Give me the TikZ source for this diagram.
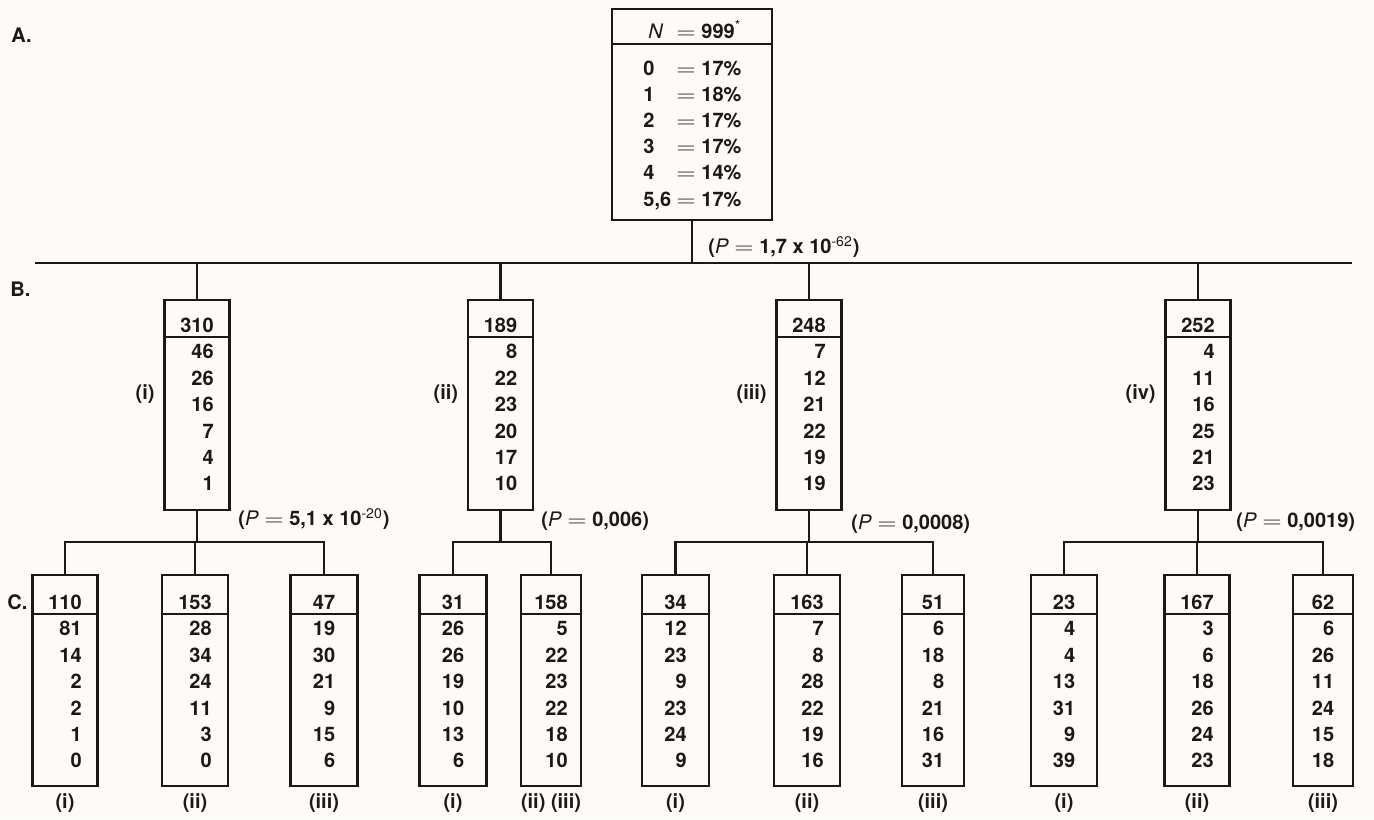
\documentclass[tikz,border=0pt]{standalone}
\usepackage{graphicx}
\usepackage{fontspec}
\setmainfont{TeX Gyre Heros}
\definecolor{ink}{RGB}{28,24,22}
\definecolor{paper}{RGB}{252,251,247}

% a long, light equals sign
\newcommand\eqs{\scalebox{1.25}[1]{$=$}}
% a light, small exponent
\newcommand\expo[1]{\textsuperscript{\mdseries\fontsize{7}{7}\selectfont #1}}

% A tally box: frame, rule under the total, total centred, counts set flush
% right under the total.
% #1 name, #2 centre x, #3 top y, #4 width, #5 height, #6 rule offset,
% #7 total, #8 counts
\newcommand\tally[8]{%
  \node[box, minimum width=#4*0.5pt, minimum height=#5*0.5pt, anchor=north] (#1) at (#2,#3) {};
  \draw[frame] ([yshift=-#6*0.5pt]#1.north west) -- ([yshift=-#6*0.5pt]#1.north east);
  \node[num, anchor=base] (#1-h) at ([yshift=-(#6-4.5)*0.5pt]#1.north) {#7};
  \foreach \v [count=\k] in {#8}
    \node[num, anchor=base east] (#1-\k) at ([yshift=-(\k*26.4)*0.5pt]#1-h.base east) {\v};
}

\begin{document}
\begin{tikzpicture}[x=0.5pt, y=-0.5pt,
  frame/.style={draw=ink, line width=1.3pt},
  box/.style={frame, inner sep=0pt, outer sep=0pt},
  num/.style={text=ink, inner sep=0pt, font=\bfseries\fontsize{10}{12}\selectfont},
  lab/.style={num},
  pval/.style={num, anchor=west}]
\useasboundingbox (0,0) rectangle (1374,819);
\fill[paper] (0,0) rectangle (1374,819);

% section letters
\node[lab, anchor=west] (secA) at (11,35) {A.};
\node[lab, anchor=west] (secB) at (10,289) {B.};
\node[lab, anchor=west] (secC) at (7,602) {C.};

% A: whole sample
\node[box, minimum width=160*0.5pt, minimum height=211*0.5pt, anchor=north] (top) at (692,9) {};
\draw[frame] ([yshift=-17.5pt]top.north west) -- ([yshift=-17.5pt]top.north east);
\node[num, anchor=base west] (topN) at (648,38) {\textit{\mdseries N}};
\node[num, anchor=base west] (topNv) at (676,38) {\eqs\ 999\expo{*}};
\foreach \key/\val [count=\k] in {0/17,1/18,2/17,3/17,4/14,{5,6}/17} {
  \node[num, anchor=base west] (topk\k) at (643,{38+37+(\k-1)*26.2}) {\key};
  \node[num, anchor=base west] (topv\k) at (676,{38+37+(\k-1)*26.2}) {\eqs\ \val\%};
}

% main split
\coordinate (mL) at (35,263);
\coordinate (mR) at (1352,263);
\draw[frame] (mL) -- (mR);
\draw[frame] (top.south) -- (top.south |- mL);
\node[pval] (pA) at (708,247) {(\textit{\mdseries P} \eqs\ 1,7 x 10\expo{-62})};

% B: first split
\tally{b1}{197}{300}{65}{210}{37}{310}{46,26,16,7,4,1}
\tally{b2}{500.5}{300}{65}{210}{37}{189}{8,22,23,20,17,10}
\tally{b3}{809}{300}{65}{210}{37}{248}{7,12,21,22,19,19}
\tally{b4}{1198}{300}{65}{210}{37}{252}{4,11,16,25,21,23}
\foreach \b/\t in {b1/(i),b2/(ii),b3/(iii),b4/(iv)} {
  \draw[frame] (\b.north) -- (\b.north |- mL);
  \node[lab, anchor=east] (\b-lab) at ([xshift=-4.75pt, yshift=5.5pt]\b.west) {\t};
}

% C: second split
\tally{c11}{65}{575}{65}{211}{39}{110}{81,14,2,2,1,0}
\tally{c12}{195}{575}{66}{211}{39}{153}{28,34,24,11,3,0}
\tally{c13}{324}{575}{67}{211}{39}{47}{19,30,21,9,15,6}
\tally{c21}{453}{575}{67}{211}{39}{31}{26,26,19,10,13,6}
\tally{c22}{551}{575}{60}{211}{39}{158}{5,22,23,22,18,10}
\tally{c31}{675.5}{575}{67}{211}{39}{34}{12,23,9,23,24,9}
\tally{c32}{807}{575}{66}{211}{39}{163}{7,8,28,22,19,16}
\tally{c33}{933}{575}{62}{211}{39}{51}{6,18,8,21,16,31}
\tally{c41}{1064}{575}{66}{211}{39}{23}{4,4,13,31,9,39}
\tally{c42}{1197}{575}{65}{211}{39}{167}{3,6,18,26,24,23}
\tally{c43}{1323}{575}{60}{211}{39}{62}{6,26,11,24,15,18}

% branches from B to C
\foreach \n in {1,2,3,4} {
  \path (b\n.south) ++(0,32) coordinate (br\n);
  \draw[frame] (b\n.south) -- (br\n);
}
\draw[frame] (c11.north) |- (br1) -| (c13.north);
\draw[frame] (c12.north) -- (c12.north |- br1);
\draw[frame] (c21.north) |- (br2) -| (c22.north);
\draw[frame] (c31.north) |- (br3) -| (c33.north);
\draw[frame] (c32.north) -- (c32.north |- br3);
\draw[frame] (c41.north) |- (br4) -| (c43.north);
\draw[frame] (c42.north) -- (c42.north |- br4);

\node[pval] (p1) at (238,519) {(\textit{\mdseries P} \eqs\ 5,1 x 10\expo{-20})};
\node[pval] (p2) at (541,521) {(\textit{\mdseries P} \eqs\ 0,006)};
\node[pval] (p3) at (851,524) {(\textit{\mdseries P} \eqs\ 0,0008)};
\node[pval] (p4) at (1236,522) {(\textit{\mdseries P} \eqs\ 0,0019)};

% subgroup labels
\foreach \c/\t in {c11/(i),c12/(ii),c13/(iii),c21/(i),c22/{(ii) (iii)},c31/(i),c32/(ii),c33/(iii),c41/(i),c42/(ii),c43/(iii)}
  \node[lab] (\c-lab) at ([yshift=-8.5pt]\c.south) {\t};
\end{tikzpicture}
\end{document}
